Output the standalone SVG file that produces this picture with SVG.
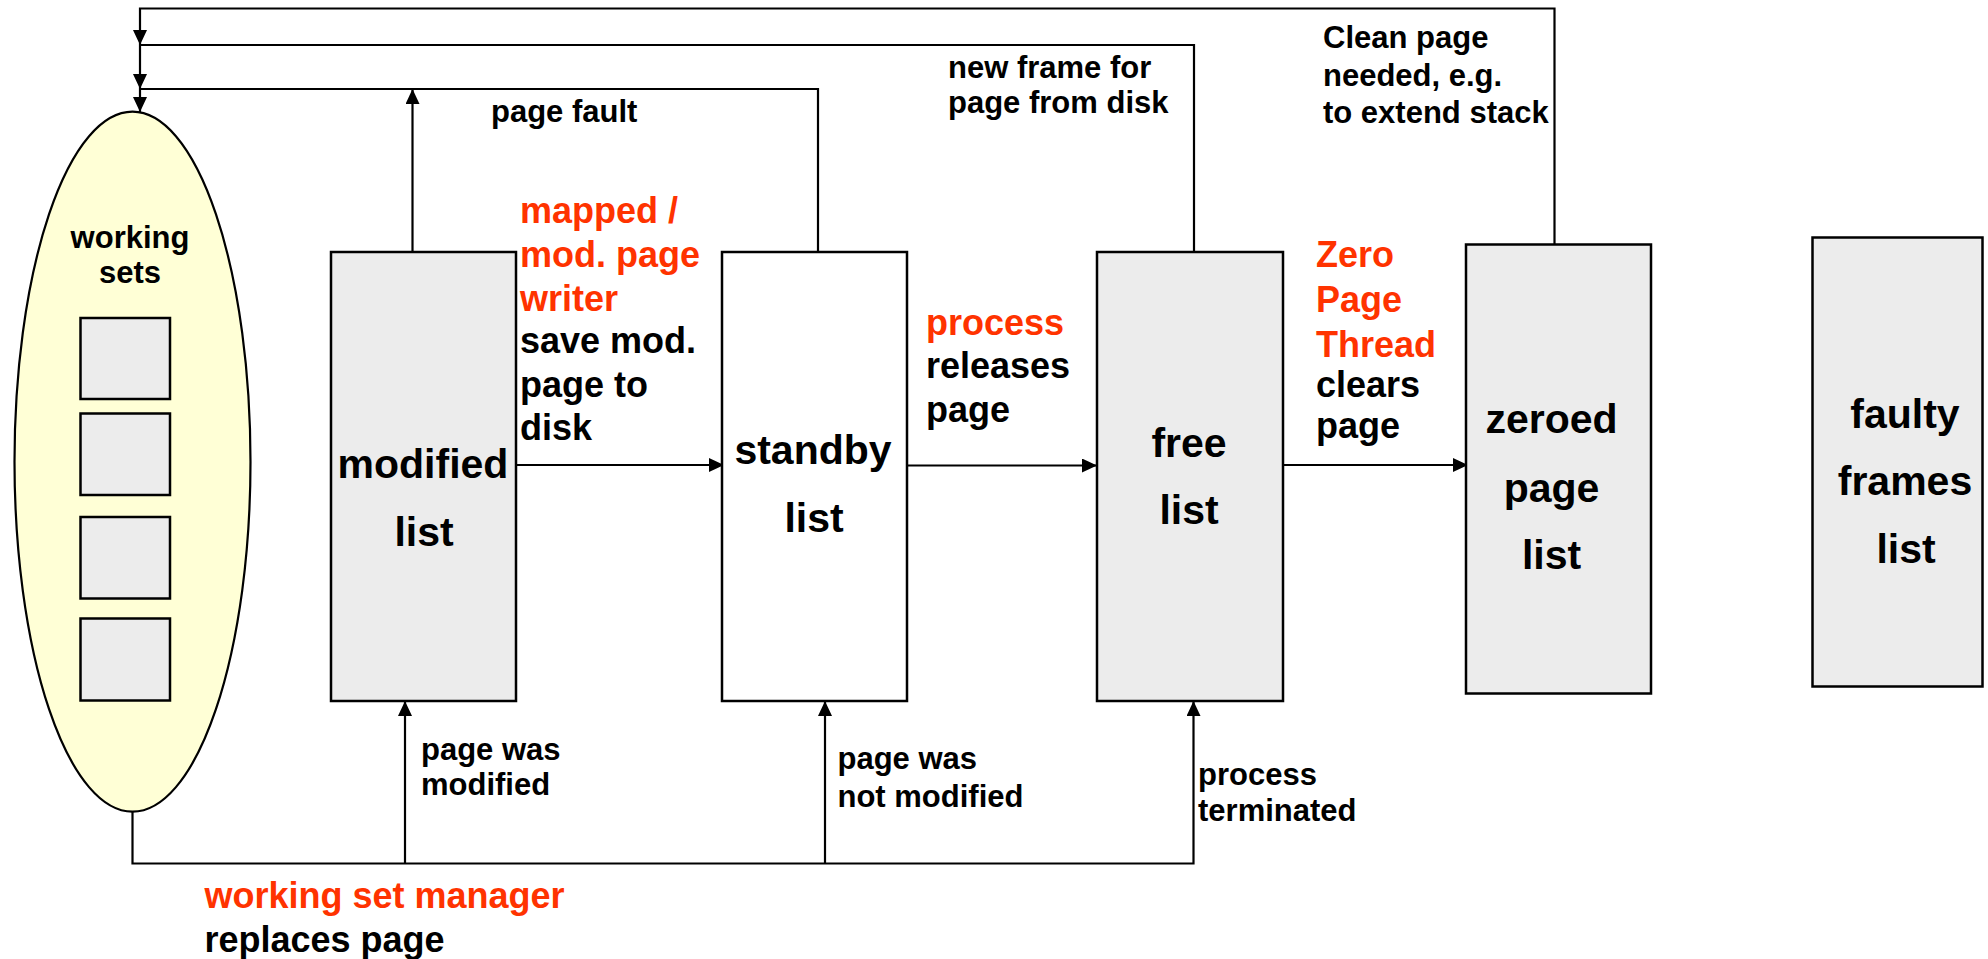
<svg xmlns="http://www.w3.org/2000/svg" width="1988" height="959" viewBox="0 0 1988 959">
<style>
text{font-family:"Liberation Sans",Arial,Helvetica,sans-serif;font-weight:bold;fill:#000}
.s{font-size:31px}
.m{font-size:36px}
.l{font-size:41px;text-anchor:middle}
.c{text-anchor:middle}
.r{fill:#ff3300}
.box{stroke:#000;stroke-width:2.5}
.gray{fill:#ececec}
.wht{fill:#ffffff}
.ln{fill:none;stroke:#000;stroke-width:2.2}
</style>
<defs>
<marker id="ah" markerUnits="userSpaceOnUse" markerWidth="15" markerHeight="14" refX="15" refY="7" orient="auto">
<path d="M0,0 L15,7 L0,14 z" fill="#000"/>
</marker>
</defs>
<rect width="1988" height="959" fill="#fff"/>

<g id="connectors">
<path class="ln" d="M1554.5,244 V8.5 H140 V45" marker-end="url(#ah)"/>
<path class="ln" d="M1194,252 V45 H140"/>
<path class="ln" d="M140,45 V89" marker-end="url(#ah)"/>
<path class="ln" d="M818,252 V89 H140"/>
<path class="ln" d="M140,89 V112" marker-end="url(#ah)"/>
<path class="ln" d="M412.5,252 V89" marker-end="url(#ah)"/>
<path class="ln" d="M132.5,812 V863.5 H1193.5 V701" marker-end="url(#ah)"/>
<path class="ln" d="M405,863.5 V701" marker-end="url(#ah)"/>
<path class="ln" d="M825,863.5 V701" marker-end="url(#ah)"/>
<path class="ln" d="M516,465 H724" marker-end="url(#ah)"/>
<path class="ln" d="M907,465.5 H1097" marker-end="url(#ah)"/>
<path class="ln" d="M1283,465 H1468" marker-end="url(#ah)"/>
</g>

<g id="working-sets">
<ellipse cx="132.5" cy="461.7" rx="118" ry="350" fill="#ffffd6" stroke="#000" stroke-width="2.2"/>
<text class="s c" x="130" y="248">working</text>
<text class="s c" x="130" y="283">sets</text>
<rect class="box gray" x="80.5" y="318" width="89.5" height="81"/>
<rect class="box gray" x="80.5" y="413.5" width="89.5" height="81.5"/>
<rect class="box gray" x="80.5" y="517" width="89.5" height="81.5"/>
<rect class="box gray" x="80.5" y="618.5" width="89.5" height="82"/>
</g>

<g id="modified-list">
<rect class="box gray" x="331" y="252" width="185" height="449"/>
<text class="l" x="423" y="477.7">modified</text>
<text class="l" x="424" y="546">list</text>
</g>

<g id="standby-list">
<rect class="box wht" x="722" y="252" width="185" height="449"/>
<text class="l" x="813" y="464.3">standby</text>
<text class="l" x="814" y="531.7">list</text>
</g>

<g id="free-list">
<rect class="box gray" x="1097" y="252" width="186" height="449"/>
<text class="l" x="1189" y="456.7">free</text>
<text class="l" x="1189" y="524.3">list</text>
</g>

<g id="zeroed-page-list">
<rect class="box gray" x="1466" y="244.5" width="185" height="449"/>
<text class="l" x="1551.5" y="433.3">zeroed</text>
<text class="l" x="1551.5" y="501.7">page</text>
<text class="l" x="1551.5" y="569.3">list</text>
</g>

<g id="faulty-frames-list">
<rect class="box gray" x="1812.5" y="237.5" width="170" height="449"/>
<text class="l" x="1905" y="428.3">faulty</text>
<text class="l" x="1905" y="495">frames</text>
<text class="l" x="1906" y="562.7">list</text>
</g>

<g id="labels">
<text class="s" x="491" y="121.7">page fault</text>
<text class="s" x="948" y="78.3">new frame for</text>
<text class="s" x="948" y="113.3">page from disk</text>
<text class="s" x="1323" y="48.3">Clean page</text>
<text class="s" x="1323" y="85.5">needed, e.g.</text>
<text class="s" x="1323" y="123.3">to extend stack</text>

<text class="m r" x="520" y="223.3">mapped /</text>
<text class="m r" x="520" y="267.3">mod. page</text>
<text class="m r" x="520" y="311">writer</text>
<text class="m" x="520" y="353.3">save mod.</text>
<text class="m" x="520" y="396.7">page to</text>
<text class="m" x="520" y="440">disk</text>

<text class="m r" x="926" y="335">process</text>
<text class="m" x="926" y="378.3">releases</text>
<text class="m" x="926" y="421.7">page</text>

<text class="m r" x="1316" y="267">Zero</text>
<text class="m r" x="1316" y="311.7">Page</text>
<text class="m r" x="1316" y="356.7">Thread</text>
<text class="m" x="1316" y="396.7">clears</text>
<text class="m" x="1316" y="438.3">page</text>

<text class="s" x="421" y="760">page was</text>
<text class="s" x="421" y="795">modified</text>
<text class="s" x="837.5" y="769.3">page was</text>
<text class="s" x="837.5" y="806.7">not modified</text>
<text class="s" x="1198" y="785">process</text>
<text class="s" x="1198" y="820.7">terminated</text>

<text class="m r" x="204.5" y="907.7">working set manager</text>
<text class="m" x="204.5" y="951.7">replaces page</text>
</g>
</svg>
